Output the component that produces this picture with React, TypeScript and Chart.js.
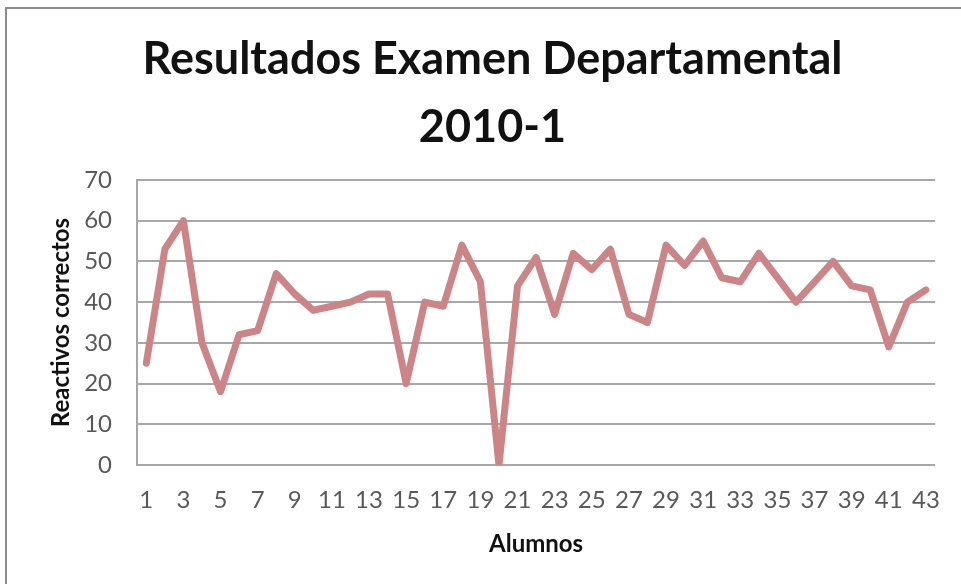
import React, { useEffect, useRef } from "react";
import { Chart, registerables } from "chart.js";

Chart.register(...registerables);

const titleLines = ["Resultados Examen Departamental", "2010-1"];
const yAxisTitle = "Reactivos correctos";
const xAxisTitle = "Alumnos";

const students = [
  1, 2, 3, 4, 5, 6, 7, 8, 9, 10, 11, 12, 13, 14, 15, 16, 17, 18, 19, 20, 21, 22,
  23, 24, 25, 26, 27, 28, 29, 30, 31, 32, 33, 34, 35, 36, 37, 38, 39, 40, 41, 42, 43,
];

const correctAnswers = [
  25, 53, 60, 30, 18, 32, 33, 47, 42, 38, 39, 40, 42, 42, 20, 40, 39, 54, 45, 0, 44, 51,
  37, 52, 48, 53, 37, 35, 54, 49, 55, 46, 45, 52, 46, 40, 45, 50, 44, 43, 29, 40, 43,
];

const yMin = 0;
const yMax = 70;
const yStep = 10;

export default function App() {
  const canvasRef = useRef<HTMLCanvasElement | null>(null);

  useEffect(() => {
    const canvas = canvasRef.current;
    if (!canvas) return;
    const chart = new Chart(canvas, {
      type: "line",
      data: {
        labels: students.map(String),
        datasets: [
          {
            data: correctAnswers,
            borderColor: "#cd8486",
            backgroundColor: "#cd8486",
            borderWidth: 7,
            pointRadius: 0,
            tension: 0,
            borderJoinStyle: "round",
            borderCapStyle: "round",
          },
        ],
      },
      options: {
        responsive: false,
        animation: false,
        layout: { padding: { left: 40, right: 16, top: 0, bottom: 0 } },
        plugins: {
          legend: { display: false },
          tooltip: { enabled: false },
          title: {
            display: true,
            text: titleLines,
            color: "#111111",
            font: { family: "Lato", size: 45, weight: "bold", lineHeight: 1.5 },
            padding: { top: 26, bottom: 19 },
          },
        },
        scales: {
          x: {
            offset: true,
            grid: { display: false, drawTicks: false },
            border: { display: false },
            ticks: {
              autoSkip: false,
              maxRotation: 0,
              padding: 21,
              color: "#595959",
              font: { family: "Lato", size: 24 },
              callback: (_v: any, i: number) => (i % 2 === 0 ? students[i] : ""),
            },
            title: {
              display: true,
              text: xAxisTitle,
              color: "#111111",
              font: { family: "Lato", size: 24, weight: "bold" },
              padding: { top: 0, bottom: 25 },
            },
            afterFit: (scale: any) => {
              scale.height = 119;
            },
          },
          y: {
            min: yMin,
            max: yMax,
            ticks: {
              stepSize: yStep,
              padding: 25,
              color: "#595959",
              font: { family: "Lato", size: 24 },
            },
            grid: { color: "#a8a8a8", lineWidth: 2, drawTicks: false },
            border: { display: true, color: "#a8a8a8", width: 2 },
            title: {
              display: true,
              text: yAxisTitle,
              color: "#111111",
              font: { family: "Lato", size: 24, weight: "bold" },
              padding: { top: 7, bottom: 0 },
            },
            afterFit: (scale: any) => {
              scale.width = 97;
            },
          },
        },
      },
    } as any);
    return () => chart.destroy();
  }, []);

  return (
    <>
      <div
        style={{
          position: "fixed",
          left: 5,
          top: 7,
          width: 956,
          height: 577,
          boxSizing: "border-box",
          borderTop: "2px solid #8c8c8c",
          borderLeft: "2px solid #8c8c8c",
          background: "#ffffff",
        }}
      />
      <canvas
        ref={canvasRef}
        width={961}
        height={584}
        style={{ position: "fixed", left: 0, top: 0, width: 961, height: 584 }}
      />
    </>
  );
}
